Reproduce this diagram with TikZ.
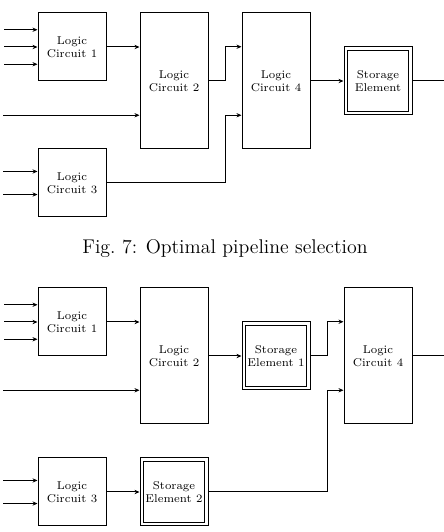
\documentclass[tikz,border=0pt]{standalone}
\usetikzlibrary{arrows.meta,positioning,calc}

\begin{document}
\begin{tikzpicture}[font=\fontsize{6.8}{7.8}\selectfont,node distance=19.8pt,semithick,>={Stealth[length=3pt,width=2.6pt]},
  lc/.style={draw,minimum width=40.8pt,minimum height=40.8pt,inner sep=0pt,align=center},
  lctall/.style={lc,minimum height=81.6pt},
  se/.style={lc,path picture={\draw[line width=.7pt] ([shift={(2pt,2pt)}]path picture bounding box.south west) rectangle ([shift={(-2pt,-2pt)}]path picture bounding box.north east);}}]
\useasboundingbox (0,0) rectangle (266.4pt,319.2pt);
% top pipeline: one storage element
\node[lc] (a1) at (43.2pt,291pt) {Logic\\Circuit 1};
\node[lctall,right=of a1.north east,anchor=north west] (a2) {Logic\\Circuit 2};
\node[lc,below=40.2pt of a1] (a3) {Logic\\Circuit 3};
\node[lctall,right=of a2] (a4) {Logic\\Circuit 4};
\node[se,right=of a4] (s) {Storage\\Element};
\node[font=\fontsize{11.9}{14}\selectfont,anchor=base] (cap) at (135pt,166.8pt) {Fig.~7: Optimal pipeline selection};
\foreach \f in {.25,.5,.75} \draw[<-] ($(a1.north west)!\f!(a1.south west)$) -- ++(-20.4pt,0);
\foreach \f in {.333,.667} \draw[<-] ($(a3.north west)!\f!(a3.south west)$) -- ++(-20.4pt,0);
\draw[<-] ($(a2.north west)!.75!(a2.south west)$) -- ++(-81.6pt,0);
\draw[->] (a1) -- (a1 -| a2.west);
\coordinate (m) at ($(a2.east)!.5!(a4.west)$);
\coordinate (a4u) at ($(a4.north west)!.25!(a4.south west)$);
\coordinate (a4d) at ($(a4.north west)!.75!(a4.south west)$);
\draw[->] (a2.east) -| (m |- a4u) -- (a4u);
\draw[->] (a3.east) -| (m |- a4d) -- (a4d);
\draw[->] (a4) -- (s);
\draw (s.east) -- ++(20.4pt,0);
% bottom pipeline: two storage elements
\node[lc] (b1) at (43.2pt,126pt) {Logic\\Circuit 1};
\node[lctall,right=of b1.north east,anchor=north west] (b2) {Logic\\Circuit 2};
\node[se,right=of b2] (e1) {Storage\\Element 1};
\node[lctall,right=of e1] (b4) {Logic\\Circuit 4};
\node[lc,below=60.6pt of b1] (b3) {Logic\\Circuit 3};
\node[se,right=of b3] (e2) {Storage\\Element 2};
\foreach \f in {.25,.5,.75} \draw[<-] ($(b1.north west)!\f!(b1.south west)$) -- ++(-20.4pt,0);
\foreach \f in {.333,.667} \draw[<-] ($(b3.north west)!\f!(b3.south west)$) -- ++(-20.4pt,0);
\draw[<-] ($(b2.north west)!.75!(b2.south west)$) -- ++(-81.6pt,0);
\draw[->] (b1) -- (b1 -| b2.west);
\draw[->] (b2) -- (e1);
\draw[->] (b3) -- (e2);
\coordinate (n) at ($(e1.east)!.5!(b4.west)$);
\coordinate (b4u) at ($(b4.north west)!.25!(b4.south west)$);
\coordinate (b4d) at ($(b4.north west)!.75!(b4.south west)$);
\draw[->] (e1.east) -| (n |- b4u) -- (b4u);
\draw[->] (e2.east) -| (n |- b4d) -- (b4d);
\draw (b4.east) -- ++(20.4pt,0);
\end{tikzpicture}
\end{document}
